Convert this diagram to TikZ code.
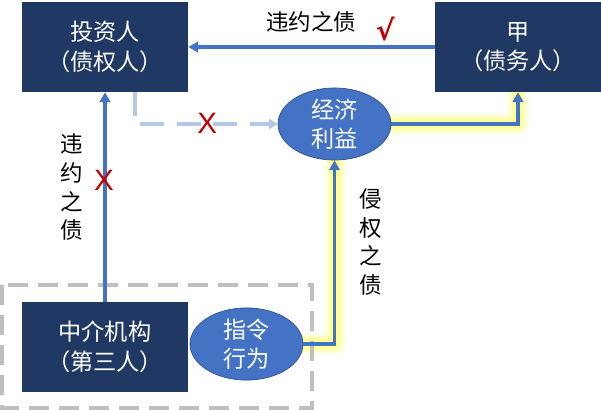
\documentclass[tikz,border=0pt]{standalone}
\usepackage{fontspec}
\newfontfamily\cjk{Noto Sans CJK SC}
\newfontfamily\marksfont{DejaVu Sans}
\newfontfamily\crossfont{Liberation Sans}
\usetikzlibrary{arrows.meta}
\usetikzlibrary{backgrounds}
\usetikzlibrary{shapes.geometric}
\definecolor{dbnavy}{HTML}{203864}
\definecolor{dbblue}{HTML}{4472C4}
\definecolor{dbedge}{HTML}{2F528F}
\definecolor{dbdash}{HTML}{B4C7E7}
\definecolor{dbred}{HTML}{C00000}
\definecolor{dbgray}{HTML}{BFBFBF}
\definecolor{dbglow}{HTML}{FFFF66}
\tikzset{
  dbbox/.style={
    fill=dbnavy, text=white, minimum width=4.15cm, minimum height=2.25cm,
    inner sep=0pt, align=center, font=\cjk\fontsize{16.5}{21}\selectfont},
  dbbubble/.style={
    ellipse, fill=dbblue, draw=dbedge, line width=0.5pt,
    minimum width=2.825cm, minimum height=1.55cm, inner sep=0pt,
    align=center, text=white, font=\cjk\fontsize{16.5}{21}\selectfont},
  dbarrow/.style={-{Triangle[length=7pt, width=7.5pt]}, draw=dbblue,
    line width=2.2pt},
  dbdashed/.style={-{Triangle[length=6pt, width=7pt]}, draw=dbdash,
    line width=2.4pt, dash pattern=on 0.6cm off 0.32cm},
  dbglow/.style={draw=dbglow, line cap=round, line join=round},
  dbframe/.style={draw=dbgray, line width=2.2pt,
    dash pattern=on 0.5cm off 0.25cm},
  dblabel/.style={font=\cjk\fontsize{16}{20.5}\selectfont, text=black,
    align=center, inner sep=0pt},
  dbcross/.style={font=\crossfont\fontsize{21}{21}\selectfont,
    text=dbred, inner sep=0pt},
}

\begin{document}
\begin{tikzpicture}[x=1cm, y=1cm]
\useasboundingbox (0, 0) rectangle (15.025, -10.25);

% Parties.
\node[dbbox] (inv) at (2.625, -1.175) {投资人\\（债权人）};
\node[dbbox] (jia) at (12.95, -1.175) {甲\\（债务人）};
\node[dbbox] (mid) at (2.625, -8.675) {中介机构\\（第三人）};

% Third party's frame around the intermediary and its act.
\draw[dbframe] (0.05, -7.125) rectangle (7.8, -10.2);

\node[dbbubble] (benefit) at (8.3625, -3.1) {经济\\利益};
\node[dbbubble] (order) at (6.1625, -8.6) {指令\\行为};

% Contract debt: Jia owes the investor.
\draw[dbarrow] (jia.west) -- (inv.east);
\node[dblabel] (toplab) at (7.78, -0.55) {违约之债};
\node[font=\marksfont\bfseries\fontsize{20}{20}\selectfont, text=dbred,
      inner sep=0pt] (tick) at (9.63, -0.72) {√};

% Contract debt from the intermediary: rejected.
\draw[dbarrow] (mid.north) -- (inv.south);
\node[dblabel] (leftlab) at (1.8, -4.68) {违\\约\\之\\债};
\node[dbcross] (cross1) at (2.6, -4.5) {X};

% Benefit claimed directly by the investor: rejected.
\coordinate (invfoot) at (3.375, -2.3);
\draw[dbdashed] (invfoot) |- (benefit.west);
\node[dbcross] (cross2) at (5.18, -3.08) {X};

% Tort debt: order → benefit → Jia, highlighted.
\begin{scope}[on background layer]
  \foreach \w/\o in {0.55/0.15, 0.4/0.3, 0.25/0.5} {
    \draw[dbglow, line width=\w cm, opacity=\o]
      (order.east) -| (benefit.south);
    \draw[dbglow, line width=\w cm, opacity=\o]
      (benefit.east) -| (jia.south);
  }
\end{scope}
\draw[dbarrow] (order.east) -| (benefit.south);
\draw[dbarrow] (benefit.east) -| (jia.south);
\node[dblabel] (rightlab) at (9.28, -6.05) {侵\\权\\之\\债};

\end{tikzpicture}
\end{document}
